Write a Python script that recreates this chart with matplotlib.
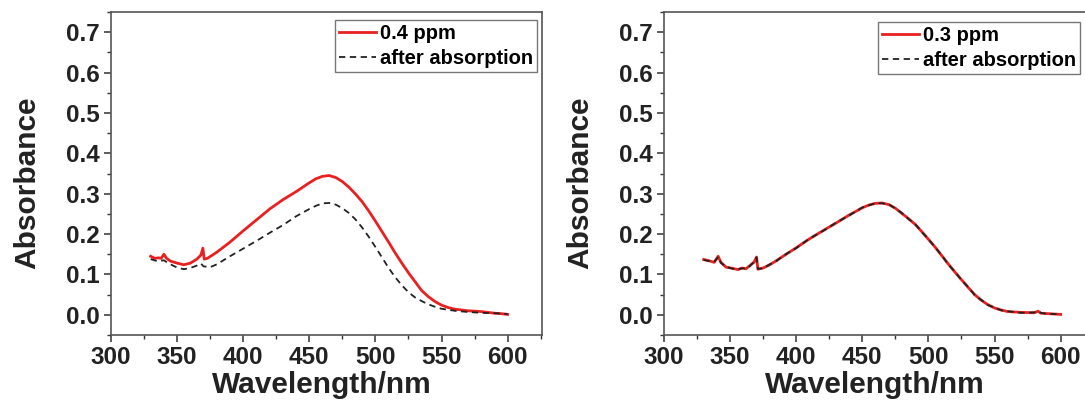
import matplotlib.pyplot as plt
from matplotlib.ticker import MultipleLocator

plt.rcParams['font.family'] = ['Liberation Sans', 'DejaVu Sans']
plt.rcParams['font.weight'] = 'bold'
plt.rcParams['axes.labelweight'] = 'bold'

# venstre panel: 0.4 ppm
wl_a = [330, 333, 336, 338, 340, 342, 345, 350, 355, 360, 365, 368, 369.5, 370.5, 373,
        380, 390, 400, 410, 420, 430, 440, 450, 455, 460, 465, 470, 475, 480, 485,
        490, 495, 500, 505, 510, 515, 520, 525, 530, 535, 540, 545, 550, 555, 560,
        570, 580, 585, 590, 595, 600]
abs_a = [0.145, 0.140, 0.141, 0.140, 0.150, 0.140, 0.133, 0.128, 0.124, 0.128, 0.138, 0.148, 0.165, 0.138, 0.140,
         0.155, 0.180, 0.208, 0.235, 0.262, 0.285, 0.305, 0.327, 0.337, 0.343, 0.345, 0.340, 0.330, 0.316, 0.299,
         0.280, 0.257, 0.232, 0.206, 0.180, 0.153, 0.128, 0.104, 0.082, 0.060, 0.045, 0.033, 0.024, 0.018, 0.014,
         0.010, 0.008, 0.006, 0.004, 0.003, 0.001]

wl_a2 = [330, 335, 340, 345, 350, 355, 360, 365, 368, 370, 375, 380, 390, 400, 410, 420, 430,
         440, 450, 455, 460, 465, 470, 475, 480, 485, 490, 495, 500, 505, 510, 515, 520,
         525, 530, 535, 540, 545, 550, 560, 570, 580, 590, 600]
abs_a2 = [0.138, 0.133, 0.135, 0.125, 0.117, 0.113, 0.116, 0.122, 0.127, 0.120, 0.118, 0.125, 0.145, 0.164, 0.183, 0.203, 0.222,
          0.244, 0.262, 0.270, 0.276, 0.277, 0.273, 0.264, 0.252, 0.236, 0.216, 0.193, 0.168, 0.142, 0.116, 0.093, 0.073,
          0.056, 0.043, 0.034, 0.026, 0.020, 0.015, 0.010, 0.007, 0.005, 0.004, 0.002]

# hoeyre panel: 0.3 ppm
wl_b = [330, 334, 338, 341, 343, 347, 352, 356, 359, 362, 365, 368, 370, 371, 375, 380, 385,
        390, 400, 410, 420, 430, 440, 450, 455, 460, 465, 470, 475, 480, 485, 490, 495,
        500, 505, 510, 515, 520, 525, 530, 535, 540, 545, 550, 555, 560, 570, 580, 583,
        585, 590, 600]
abs_b = [0.137, 0.134, 0.130, 0.145, 0.130, 0.118, 0.115, 0.112, 0.116, 0.114, 0.122, 0.130, 0.143, 0.113, 0.116, 0.124, 0.134,
         0.145, 0.166, 0.188, 0.208, 0.227, 0.247, 0.265, 0.272, 0.276, 0.277, 0.273, 0.264, 0.251, 0.238, 0.224, 0.206,
         0.187, 0.168, 0.147, 0.126, 0.106, 0.087, 0.068, 0.050, 0.036, 0.025, 0.017, 0.012, 0.008, 0.006, 0.005, 0.009,
         0.004, 0.003, 0.001]
abs_b2 = [0.136, 0.133, 0.131, 0.144, 0.129, 0.119, 0.114, 0.113, 0.115, 0.115, 0.121, 0.131, 0.142, 0.114, 0.115, 0.125, 0.133,
          0.146, 0.165, 0.189, 0.207, 0.228, 0.246, 0.266, 0.271, 0.277, 0.276, 0.274, 0.263, 0.252, 0.237, 0.225, 0.205,
          0.188, 0.167, 0.148, 0.125, 0.107, 0.086, 0.069, 0.049, 0.037, 0.024, 0.018, 0.011, 0.009, 0.005, 0.006, 0.008,
          0.005, 0.002, 0.002]

fig = plt.figure(figsize=(10.85, 4.08), dpi=100)
W, H = 1085, 408


def panel(left, wl, y1, wl2, y2, label, leg_right, leg_top):
    ax = fig.add_axes([left / W, 73 / H, 431 / W, 323 / H])
    ax.plot(wl, y1, color="#e8201f", lw=2.0, label=label)
    ax.plot(wl2, y2, color="#222222", lw=1.3, dashes=(3.5, 2.5), label="after absorption")
    ax.set_xlim(300, 626)
    ax.set_ylim(-0.05, 0.75)
    ax.xaxis.set_major_locator(MultipleLocator(50))
    ax.xaxis.set_minor_locator(MultipleLocator(25))
    ax.yaxis.set_major_locator(MultipleLocator(0.1))
    ax.yaxis.set_minor_locator(MultipleLocator(0.05))
    ax.yaxis.set_major_formatter(plt.FormatStrFormatter("%.1f"))
    ax.tick_params(which="major", direction="out", length=5, width=1.1, labelsize=17.5,
                   colors="#333333", labelcolor="#222222", pad=3)
    ax.tick_params(which="minor", direction="out", length=3, width=1.0, colors="#333333")
    for s in ax.spines.values():
        s.set_color("#555555")
        s.set_linewidth(1.2)
    ax.set_xlabel("Wavelength/nm", fontsize=21.5, fontweight="bold", color="#222222")
    ax.set_ylabel("Absorbance", fontsize=21.5, fontweight="bold", color="#222222")
    ax.xaxis.set_label_coords(0.49, -0.155)
    ax.xaxis.label.set_va("center")
    ax.yaxis.set_label_coords(-0.195, 0.47)
    ax.yaxis.label.set_va("center")
    leg = ax.legend(loc="upper right", bbox_to_anchor=(leg_right / W, 1 - leg_top / H),
                    bbox_transform=fig.transFigure, borderaxespad=0, fontsize=14.5,
                    handlelength=1.85, handletextpad=0.2, labelspacing=0.3,
                    borderpad=0.2, fancybox=False, framealpha=1)
    leg.get_frame().set_edgecolor("#777777")
    leg.get_frame().set_linewidth(1.0)
    return ax


panel(111, wl_a, abs_a, wl_a2, abs_a2, "0.4 ppm", 537, 20)
panel(664, wl_b, abs_b, wl_b, abs_b2, "0.3 ppm", 1080, 22)

fig.savefig("out.png", dpi=100)
